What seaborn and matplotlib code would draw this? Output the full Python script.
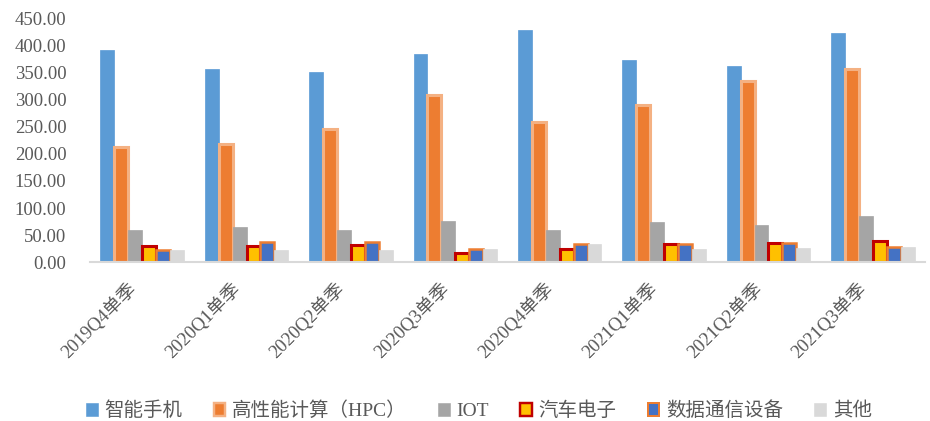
import matplotlib
matplotlib.use("Agg")
import matplotlib.pyplot as plt
from matplotlib.patches import Patch
from matplotlib.transforms import ScaledTranslation
import pandas as pd
import seaborn as sns

quarters = ["2019Q4单季", "2020Q1单季", "2020Q2单季", "2020Q3单季",
            "2020Q4单季", "2021Q1单季", "2021Q2单季", "2021Q3单季"]
series = ["智能手机", "高性能计算（HPC）", "IOT", "汽车电子", "数据通信设备", "其他"]

smartphone = [391, 357, 351, 385, 428, 374, 362, 423]
hpc = [212, 218, 246, 309, 259, 291, 335, 356]
iot = [59, 66, 60, 76, 60, 75, 68, 86]
auto = [30, 30, 32, 17, 25, 34, 35, 40]
datacom = [22, 37, 38, 25, 33, 34, 35, 29]
other = [22, 22, 23, 25, 33, 25, 26, 28]

values = [smartphone, hpc, iot, auto, datacom, other]

face_colors = ["#5B9BD5", "#ED7D31", "#A5A5A5", "#FFC000", "#4472C4", "#D9D9D9"]
edge_colors = ["#5B9BD5", "#F4B183", "#A5A5A5", "#C00000", "#ED7D31", "#D9D9D9"]
edge_widths = [0.5, 2.2, 0.5, 2.2, 1.8, 0.5]

rows = []
for name, vals in zip(series, values):
    for q, v in zip(quarters, vals):
        rows.append({"quarter": q, "series": name, "value": v})
df = pd.DataFrame(rows)

sns.set_theme(style="white")
plt.rcParams["font.family"] = ["Liberation Serif", "Noto Sans CJK SC", "DejaVu Sans"]

fig = plt.figure(figsize=(9.3, 4.21), dpi=100)
ax = fig.add_axes([0.0968, 0.377, 0.8978, 0.5795])

sns.barplot(data=df, x="quarter", y="value", hue="series", order=quarters,
            hue_order=series, palette=face_colors, width=0.8, ax=ax,
            legend=False, saturation=1)

for cont, ec, lw in zip(ax.containers, edge_colors, edge_widths):
    for bar in cont:
        bar.set_edgecolor(ec)
        bar.set_linewidth(lw)

ax.set_ylim(0, 450)
ax.set_yticks(range(0, 451, 50))
ax.set_yticklabels([f"{v:.2f}" for v in range(0, 451, 50)])
ax.set_xlim(-0.5, len(quarters) - 0.5)
ax.set_xlabel("")
ax.set_ylabel("")

for side in ["left", "right", "top"]:
    ax.spines[side].set_visible(False)
ax.spines["bottom"].set_color("#D9D9D9")
ax.spines["bottom"].set_linewidth(1.5)

ax.tick_params(axis="y", length=0, pad=17, labelsize=13.5, labelcolor="#595959")
ax.tick_params(axis="x", length=0, pad=14, labelsize=13.5, labelcolor="#595959")
shift = ScaledTranslation(-0.09, -0.04, fig.dpi_scale_trans)
for lbl in ax.get_xticklabels():
    lbl.set_rotation(45)
    lbl.set_ha("right")
    lbl.set_va("center")
    lbl.set_rotation_mode("anchor")
    lbl.set_transform(lbl.get_transform() + shift)

handles = [Patch(facecolor=fc, edgecolor=ec, linewidth=lw * 0.8)
           for fc, ec, lw in zip(face_colors, edge_colors, edge_widths)]
fig.legend(handles, series, loc="center", bbox_to_anchor=(479 / 930, 1 - 411 / 421),
           ncol=6, frameon=False, fontsize=14, handlelength=0.6, handleheight=0.6,
           handletextpad=0.35, columnspacing=1.6, labelcolor="#595959")

fig.savefig("out.png", dpi=100)
